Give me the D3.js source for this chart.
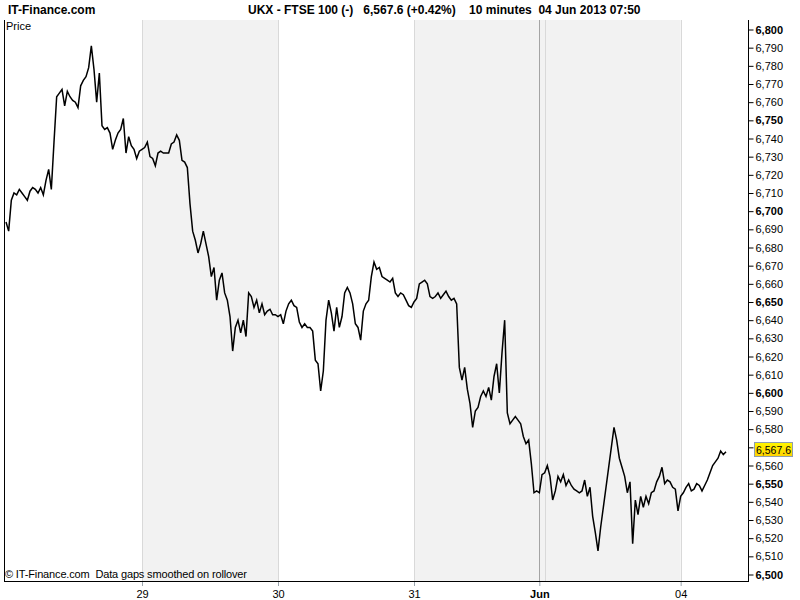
<!DOCTYPE html>
<html><head><meta charset="utf-8">
<script src="https://cdn.jsdelivr.net/npm/d3@7"></script>
<style>
body{margin:0;background:#fff;}
svg{display:block;font-family:"Liberation Sans",Arial,sans-serif;}
</style>
</head><body>
<svg id="c" width="800" height="600"></svg>
<script>
// ---- data (10-minute closes, one value per bar slot) ----
const day28 = [6694,6689,6706,6710,6709,6712,6710,6708,6706,6711,6713,6712,6710,6713,6709,6717,6723,6712,6738,6763,6765,6767,6758,6766,6763,6761,6760,6757,6769,6772,6774,6779,6791,6778,6760,6776,6747,6745,6746,6743,6734,6739,6743,6745,6751,6732,6741,6736,6734,6729,6733];
const day29 = [6734,6735,6738,6730,6729,6725,6732,6733,6732,6732,6732,6737,6738,6742,6739,6728,6727,6724,6704,6689,6684,6677,6682,6689,6682,6675,6664,6669,6651,6662,6666,6655,6651,6642,6623,6636,6640,6633,6640,6631,6655,6653,6647,6651,6644,6649,6643,6645,6646,6643,6643];
const day30 = [6642,6643,6638,6645,6649,6651,6648,6647,6639,6636,6638,6636,6636,6634,6618,6616,6601,6612,6640,6651,6644,6634,6647,6636,6642,6655,6658,6655,6649,6638,6636,6629,6645,6649,6651,6664,6672,6668,6669,6664,6663,6662,6661,6663,6655,6653,6655,6654,6651,6648,6647];
const day31 = [6650,6652,6660,6661,6662,6660,6653,6652,6653,6655,6652,6654,6656,6653,6651,6652,6649,6614,6607,6614,6602,6594,6581,6590,6592,6598,6601,6598,6603,6596,6609,6616,6600,6622,6640,6589,6583,6585,6587,6585,6583,6576,6572,6574,6561,6545,6546,6545,6555];
const jun03 = [6556,6560,6554,6541,6546,6554,6551,6555,6549,6552,6549,6547,6546,6545,6546,6552,6543,6548,6532,6523,6513,6526,6537,6548,6559,6570,6581,6574,6564,6559,6554,6545,6551,6517,6541,6533,6543,6537,6543,6539,6545,6546,6551,6554,6559,6550,6552,6551,6548,6547,6535];
const jun04 = [6543,6545,6548,6550,6546,6547,6550,6549,6546,6549,6552,6556,6560,6562,6564,6568,6566,6567.6];

const yTickValues = d3.range(6500, 6801, 10);
const dayLineSlots = [51, 102, 153, 200, 202, 253];
const monthLineSlot = 200;
const shadedDays = [[51, 102], [153, 253]];
const xTickSlots = [51, 102, 153, 200, 253];
const xTickLabels = ["29", "30", "31", "Jun", "04"];
const lastPrice = 6567.6;
const siteName = "IT-Finance.com";
const title = "UKX - FTSE 100 (-)   6,567.6 (+0.42%)    10 minutes  04 Jun 2013 07:50";
const panelLabel = "Price";
const footer = "\u00A9 IT-Finance.com  Data gaps smoothed on rollover";

const values = [].concat(day28, day29, day30, day31, jun03, jun04);

// ---- layout ----
const L = 4, R = 748, T = 20, B = 581;
const svg = d3.select("#c");
const x = d3.scaleLinear().domain([0, 51]).range([6, 142]);
const y = d3.scaleLinear().domain([6500, 6800]).range([574.5, 29.5]);

// shaded bands
svg.selectAll("rect.band").data(shadedDays).join("rect")
  .attr("class", "band")
  .attr("x", d => x(d[0])).attr("width", d => x(d[1]) - x(d[0]))
  .attr("y", T).attr("height", B - T)
  .attr("fill", "#f2f2f2");

// day lines
svg.selectAll("line.day").data(dayLineSlots).join("line")
  .attr("class", "day")
  .attr("x1", d => Math.round(x(d)) + 0.5).attr("x2", d => Math.round(x(d)) + 0.5)
  .attr("y1", T).attr("y2", B)
  .attr("stroke", d => d === monthLineSlot ? "#a4a4a4" : "#d9d9d9")
  .attr("stroke-width", 1);

// price line
const line = d3.line().x((d, i) => x(i)).y(d => y(d));
svg.append("path").datum(values)
  .attr("d", line)
  .attr("fill", "none")
  .attr("stroke", "#000")
  .attr("stroke-width", 1.5)
  .attr("stroke-linejoin", "miter");

// frame
svg.append("line").attr("x1", L + 0.5).attr("x2", L + 0.5).attr("y1", T).attr("y2", B + 1).attr("stroke", "#000");
svg.append("line").attr("x1", L).attr("x2", R + 1).attr("y1", B + 0.5).attr("y2", B + 0.5).attr("stroke", "#000");
svg.append("line").attr("x1", R + 0.5).attr("x2", R + 0.5).attr("y1", T).attr("y2", B + 1).attr("stroke", "#000");

// y axis (label hidden where the last-price tag covers it)
const fmt = d3.format(",");
const yAxis = d3.axisRight(y).tickValues(yTickValues).tickSize(5).tickSizeOuter(0).tickPadding(2)
  .tickFormat(d => Math.abs(y(d) - y(lastPrice)) < 8 ? "" : fmt(d));
const gy = svg.append("g").attr("transform", `translate(${R + 0.5},0)`).call(yAxis);
gy.select(".domain").remove();
gy.selectAll(".tick line").attr("stroke", "#000");
gy.selectAll(".tick text")
  .attr("font-size", 11)
  .attr("font-family", '"Liberation Sans",Arial,sans-serif')
  .attr("fill", "#000")
  .attr("font-weight", d => d % 50 === 0 ? "bold" : "normal");

// x axis
const xAxis = d3.axisBottom(x).tickValues(xTickSlots).tickSize(4).tickSizeOuter(0).tickPadding(4)
  .tickFormat((d, i) => xTickLabels[i]);
const gx = svg.append("g").attr("transform", `translate(0,${B + 1})`).call(xAxis);
gx.select(".domain").remove();
gx.selectAll(".tick line").attr("stroke", "#9aa4ad");
gx.selectAll(".tick text")
  .attr("font-size", 11)
  .attr("font-family", '"Liberation Sans",Arial,sans-serif')
  .attr("fill", "#000")
  .attr("font-weight", (d, i) => xTickLabels[i] === "Jun" ? "bold" : "normal");

// last price tag
const defs = svg.append("defs");
const grad = defs.append("linearGradient").attr("id", "yg").attr("x1", 0).attr("x2", 0).attr("y1", 0).attr("y2", 1);
grad.append("stop").attr("offset", "0%").attr("stop-color", "#fff600");
grad.append("stop").attr("offset", "100%").attr("stop-color", "#ffd200");
const ly = y(lastPrice);
svg.append("rect").attr("x", 754.5).attr("y", Math.round(ly) - 9.5).attr("width", 38).attr("height", 14)
  .attr("fill", "url(#yg)").attr("stroke", "#8e9eae");
svg.append("text").attr("x", 756).attr("y", Math.round(ly) + 2)
  .attr("font-size", 11).attr("fill", "#000")
  .attr("textLength", 35).attr("lengthAdjust", "spacingAndGlyphs")
  .text(d3.format(",.1f")(lastPrice));

// header texts
svg.append("text").attr("x", 8).attr("y", 14).attr("font-size", 12).attr("font-weight", "bold").text(siteName);
svg.append("text").attr("x", 248).attr("y", 14).attr("font-size", 12).attr("font-weight", "bold")
  .attr("xml:space", "preserve").style("white-space", "pre").text(title);
svg.append("text").attr("x", 6).attr("y", 30).attr("font-size", 11).text(panelLabel);
svg.append("text").attr("x", 5).attr("y", 578).attr("font-size", 11)
  .style("white-space", "pre").attr("textLength", 242).attr("lengthAdjust", "spacing").text(footer);
</script>
</body></html>
